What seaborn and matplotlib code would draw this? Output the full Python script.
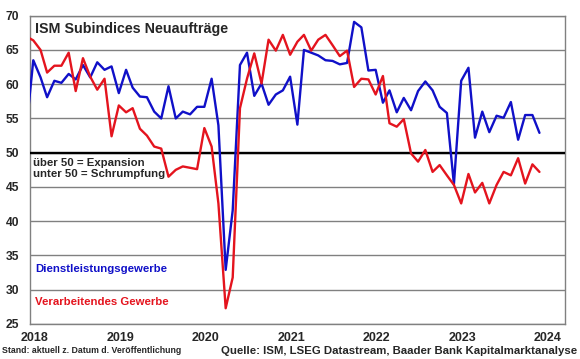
import pandas as pd
import matplotlib
matplotlib.use("Agg")
import matplotlib.pyplot as plt
import matplotlib.transforms as mtransforms
import seaborn as sns

# monthly values, Dec 2017 .. Dec 2023 (Dec 2017 only shows as the clipped start)
months = pd.date_range("2017-12-01", "2023-12-01", freq="MS") + pd.Timedelta(days=14)

services = [53.0,
            63.5, 61.0, 58.1, 60.5, 60.2, 61.5, 60.7, 62.8, 61.0, 63.2, 62.1, 62.6,
            58.7, 62.1, 59.5, 58.2, 58.1, 56.0, 55.0, 59.7, 55.0, 56.0, 55.6, 56.7,
            56.7, 60.8, 54.0, 32.9, 41.6, 62.8, 64.6, 58.3, 60.1, 57.0, 58.5, 59.1,
            61.1, 54.1, 65.0, 64.6, 64.2, 63.5, 63.4, 62.9, 63.1, 69.1, 68.3, 62.0,
            62.1, 57.3, 59.1, 55.9, 58.0, 56.2, 59.0, 60.4, 59.1, 56.7, 55.8, 45.4,
            60.5, 62.4, 52.2, 56.0, 53.0, 55.4, 55.1, 57.4, 51.9, 55.5, 55.5, 52.9]

manufacturing = [67.0,
                 66.4, 65.0, 61.7, 62.7, 62.7, 64.6, 59.0, 63.8, 61.1, 59.2, 60.8, 52.4,
                 56.9, 55.9, 56.5, 53.5, 52.5, 50.9, 50.6, 46.5, 47.5, 48.0, 47.8, 47.6,
                 53.6, 50.9, 42.6, 27.3, 31.8, 56.5, 60.8, 64.5, 60.1, 66.5, 64.9, 67.2,
                 64.3, 66.2, 67.2, 64.9, 66.5, 67.2, 65.7, 64.1, 64.9, 59.6, 60.8, 60.7,
                 58.5, 61.2, 54.3, 53.8, 54.9, 49.9, 48.7, 50.4, 47.2, 48.2, 46.7, 45.3,
                 42.6, 46.9, 44.2, 45.6, 42.6, 45.3, 47.2, 46.7, 49.2, 45.5, 48.3, 47.2]

series_names = ["Dienstleistungsgewerbe", "Verarbeitendes Gewerbe"]
years = list(range(2018, 2025))
y_ticks = list(range(25, 71, 5))

BLUE = "#1010C8"
RED = "#E4141E"
GRID = "#808080"

df = pd.DataFrame({"date": months,
                   series_names[0]: services,
                   series_names[1]: manufacturing})
long_df = df.melt(id_vars="date", var_name="series", value_name="value")

sns.set_style("white")
plt.rcParams["font.family"] = ["Liberation Sans", "DejaVu Sans"]
plt.rcParams["font.weight"] = "bold"

fig = plt.figure(figsize=(5.8, 3.59), dpi=100)
ax = fig.add_axes([30 / 580, 1 - 324 / 359, 535 / 580, 308.3 / 359])

ax.yaxis.grid(True, color=GRID, lw=1.0)
ax.set_axisbelow(True)
ax.axhline(50, color="black", lw=1.7, zorder=3)

sns.lineplot(data=long_df, x="date", y="value", hue="series",
             palette={series_names[0]: BLUE, series_names[1]: RED},
             lw=1.7, legend=False, ax=ax, zorder=4)

ax.set_xlim(pd.Timestamp("2018-01-01"), pd.Timestamp("2024-04-02"))
ax.set_ylim(25, 70)
ax.set_yticks(y_ticks)
ax.set_yticklabels([str(v) for v in y_ticks], fontsize=8.7, fontweight="bold")
ax.set_xticks([pd.Timestamp(f"{y}-01-01") for y in years])
ax.set_xticklabels([str(y) for y in years], fontsize=9, fontweight="bold")
ax.set_xlabel("")
ax.set_ylabel("")

ax.tick_params(axis="y", length=2, width=0.8, color=GRID, pad=6)
ax.tick_params(axis="x", length=3, width=0.8, color=GRID, pad=2.5, direction="out")

# Excel puts the year labels slightly right of their ticks
shift = mtransforms.ScaledTranslation(4.5 / 100, 0, fig.dpi_scale_trans)
for lab in ax.get_xticklabels():
    lab.set_transform(lab.get_transform() + shift)

for side in ["left", "right", "top", "bottom"]:
    ax.spines[side].set_visible(True)
    ax.spines[side].set_color(GRID)
    ax.spines[side].set_linewidth(1.0)

ax.text(0.0093, 0.945, "ISM Subindices Neuaufträge", transform=ax.transAxes,
        fontsize=10.3, fontweight="bold", va="baseline", ha="left", zorder=5)
ax.text(0.006, 0.523, "über 50 = Expansion", transform=ax.transAxes,
        fontsize=8.2, fontweight="bold", va="center", ha="left", zorder=5)
ax.text(0.006, 0.487, "unter 50 = Schrumpfung", transform=ax.transAxes,
        fontsize=8.2, fontweight="bold", va="center", ha="left", zorder=5)
ax.text(0.0093, 0.178, series_names[0], transform=ax.transAxes, color=BLUE,
        fontsize=8.2, fontweight="bold", va="center", ha="left", zorder=5)
ax.text(0.0093, 0.071, series_names[1], transform=ax.transAxes, color=RED,
        fontsize=8.2, fontweight="bold", va="center", ha="left", zorder=5)

fig.text(0.0034, 0.024, "Stand: aktuell z. Datum d. Veröffentlichung",
         fontsize=6.3, fontweight="bold", va="center", ha="left")
fig.text(0.995, 0.022, "Quelle: ISM, LSEG Datastream, Baader Bank Kapitalmarktanalyse",
         fontsize=8.2, fontweight="bold", va="center", ha="right")

fig.savefig("out.png", dpi=100)
